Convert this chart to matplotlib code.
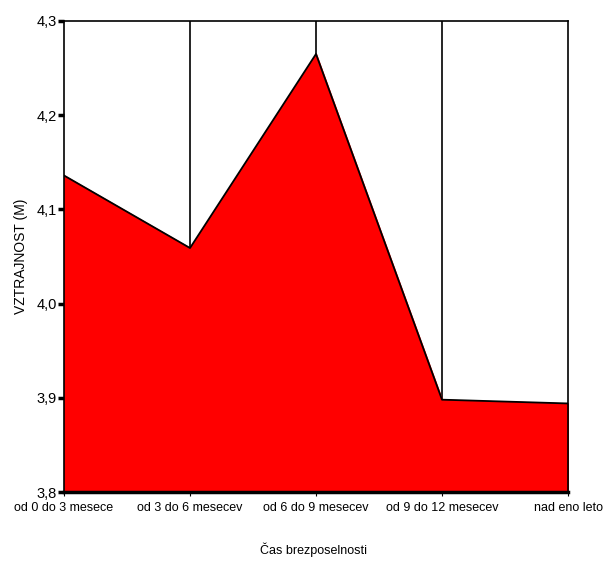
import numpy as np
import matplotlib.pyplot as plt
from matplotlib.ticker import FixedLocator, FuncFormatter

categories = ['od 0 do 3 mesece', 'od 3 do 6 mesecev', 'od 6 do 9 mesecev',
              'od 9 do 12 mesecev', 'nad eno leto']
vztrajnost = [4.136, 4.059, 4.265, 3.898, 3.894]
y_ticks = [3.8, 3.9, 4.0, 4.1, 4.2, 4.3]

plt.rcParams['font.family'] = ['Liberation Sans', 'DejaVu Sans']

fig = plt.figure(figsize=(6.03, 5.61), dpi=100)
ax = fig.add_axes([64 / 603, 1 - 492 / 561, (568 - 64) / 603, (492 - 21) / 561])

x = np.arange(len(categories))
ax.fill_between(x, 3.8, vztrajnost, color='#ff0000', zorder=2)
ax.plot(x, vztrajnost, color='black', lw=1.3, zorder=3)

# vertical lines at each category
for xi in x[1:-1]:
    ax.axvline(xi, color='black', lw=1.2, zorder=1)

ax.set_xlim(0, 4)
ax.set_ylim(3.8, 4.3)
ax.set_xticks(x)
ax.set_xticklabels(categories, fontsize=9)
ax.yaxis.set_major_locator(FixedLocator(y_ticks))
ax.yaxis.set_major_formatter(FuncFormatter(lambda v, p: f'{v:.1f}'.replace('.', ',')))
ax.tick_params(axis='y', length=4, width=2.5, labelsize=10.5, pad=1)
ax.tick_params(axis='x', length=3, width=0.8, labelsize=9, pad=4)

for s in ax.spines.values():
    s.set_linewidth(1.2)
ax.spines['bottom'].set_linewidth(2.5)

fig.text(313 / 603, 1 - 550 / 561, 'Čas brezposelnosti', fontsize=9,
         ha='center', va='center')
ax.set_ylabel('VZTRAJNOST (M)', fontsize=10, labelpad=6)

fig.savefig('out.png', dpi=100)
